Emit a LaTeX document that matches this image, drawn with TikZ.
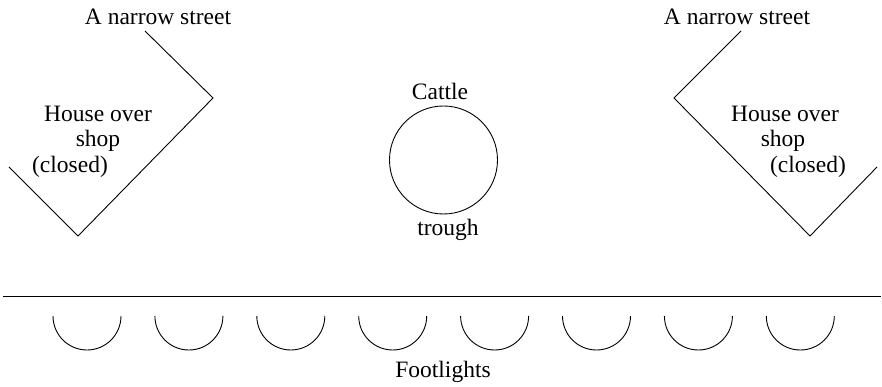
\documentclass[tikz,border=0pt]{standalone}
\usepackage{fontspec}
\setmainfont{Liberation Serif}
\usetikzlibrary{positioning}

\begin{document}
\begin{tikzpicture}[x=1pt,y=-1pt,line width=0.9pt,
  lbl/.style={font=\fontsize{23.5}{27}\selectfont,inner sep=0pt,anchor=base}]
\useasboundingbox (0,0) rectangle (882,387);
% houses at the sides
\draw (145,31) -- (213,98) -- (78,236) -- (9,167);
\draw (741,31) -- (674,98) -- (810,236) -- (877,167);
\node[lbl] (streetl) at (158,25) {A narrow street};
\node[lbl] (housel) at (98,122) {House over};
\node[lbl] (shopl) at (98,147) {shop};
\node[lbl] (closedl) at (70,173) {(closed)};
\node[lbl] (streetr) at (737,25) {A narrow street};
\node[lbl] (houser) at (785,122) {House over};
\node[lbl] (shopr) at (783,147) {shop};
\node[lbl] (closedr) at (808,173) {(closed)};
% trough
\node[circle,draw,minimum size=108pt,inner sep=0pt] (trough) at (443.5,160) {};
\node[lbl] (cattle) at (440,100) {Cattle};
\node[lbl] (troughlbl) at (448,236) {trough};
% front of the stage
\draw (3,296) -- (881,296);
\foreach \i in {0,...,7}
  \draw ({53+101.9*\i},316) arc[start angle=180,end angle=0,radius=34];
\node[lbl] (foot) at (443,377) {Footlights};
\end{tikzpicture}
\end{document}
